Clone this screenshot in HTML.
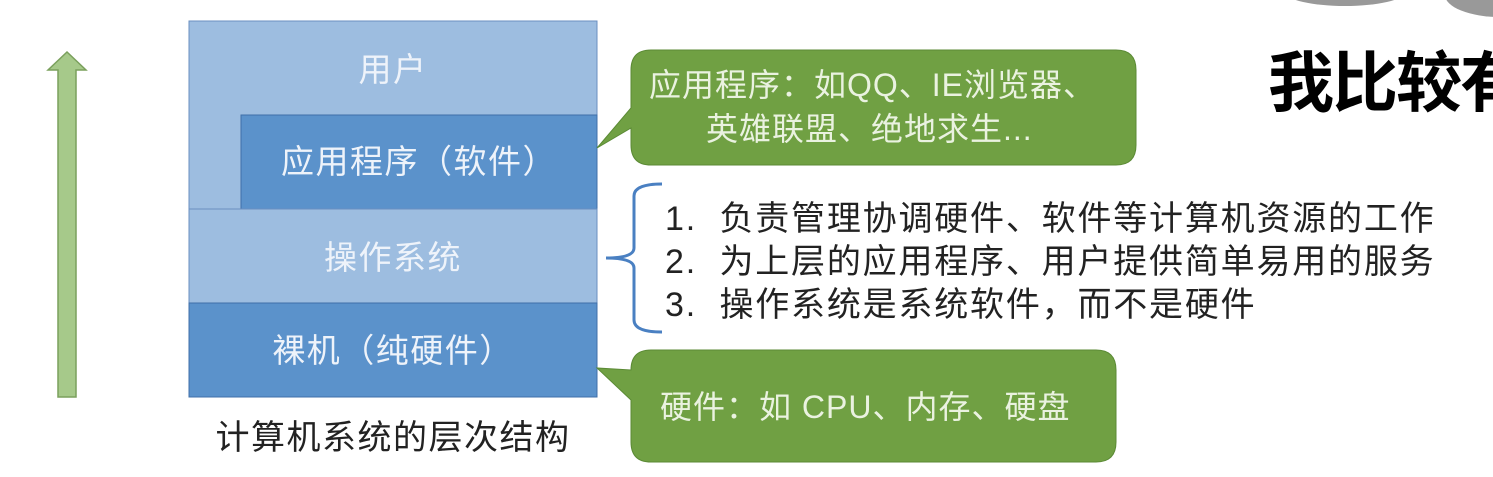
<!DOCTYPE html>
<html><head><meta charset="utf-8"><style>
body{margin:0;width:1493px;height:477px;background:#fff;position:relative;overflow:hidden;font-family:"Liberation Sans","Noto Sans CJK SC",sans-serif}
.a{position:absolute}
.t{color:#eef3fa;font-size:33px;letter-spacing:1.5px;text-align:center;position:absolute;white-space:nowrap;line-height:40px}
.g{color:#eaf2e0;font-size:32px;letter-spacing:1px;position:absolute;white-space:nowrap;line-height:44px}
</style></head><body>
<svg class="a" style="left:0;top:0" width="1493" height="477">
<polygon points="58,397 58,70 48,70 67,52 86,70 76,70 76,397" fill="#a6c98a" stroke="#7aa05c" stroke-width="1.5"/>
<rect x="189" y="21" width="408" height="188" fill="#9dbde0" stroke="#6a8fc0"/>
<rect x="241" y="115" width="356" height="94" fill="#5b92cb" stroke="#3f6fa8"/>
<rect x="189" y="209" width="408" height="94" fill="#9dbde0" stroke="#6a8fc0"/>
<rect x="189" y="303" width="408" height="94" fill="#5b92cb" stroke="#3f6fa8"/>
<path d="M651,50 H1116 Q1136,50 1136,70 V145 Q1136,165 1116,165 H651 Q631,165 631,145 V128 L597,148 L631,108 V70 Q631,50 651,50Z" fill="#70a043" stroke="#5b8a35"/>
<path d="M651,350 H1096 Q1116,350 1116,370 V442 Q1116,462 1096,462 H651 Q631,462 631,442 V400 L597,368 L631,370 Q631,350 651,350Z" fill="#70a043" stroke="#5b8a35"/>
<path d="M662,184 Q634,184 634,196 V248 Q634,258 606,258 Q634,258 634,268 V320 Q634,332 662,332" fill="none" stroke="#4a80c2" stroke-width="3"/>
<ellipse cx="1345" cy="-8" rx="60" ry="14" fill="#999"/>
<ellipse cx="1500" cy="-5" rx="55" ry="22" fill="#999"/>
</svg>
<div class="t" style="left:189px;width:408px;top:50px">用户</div>
<div class="t" style="left:241px;width:356px;top:142px">应用程序（软件）</div>
<div class="t" style="left:189px;width:408px;top:238px">操作系统</div>
<div class="t" style="left:189px;width:408px;top:331px">裸机（纯硬件）</div>
<div class="a" style="left:189px;width:408px;top:410px;text-align:center;font-size:34px;letter-spacing:1.5px;color:#222;white-space:nowrap">计算机系统的层次结构</div>
<div class="g" style="left:649px;top:63px">应用程序：如QQ、IE浏览器、</div>
<div class="g" style="left:706px;top:107px">英雄联盟、绝地求生...</div>
<div class="g" style="left:660px;top:385px">硬件：如 CPU、内存、硬盘</div>
<div class="a" style="left:665px;top:198px;font-size:34px;letter-spacing:1.8px;line-height:43px;color:#222;white-space:nowrap">1.&nbsp;&nbsp;负责管理协调硬件、软件等计算机资源的工作<br>2.&nbsp;&nbsp;为上层的应用程序、用户提供简单易用的服务<br>3.&nbsp;&nbsp;操作系统是系统软件，而不是硬件</div>
<div class="a" style="left:1268px;top:30px;font-size:66px;font-weight:bold;color:#000;white-space:nowrap;letter-spacing:-2px">我比较有</div>
</body></html>
